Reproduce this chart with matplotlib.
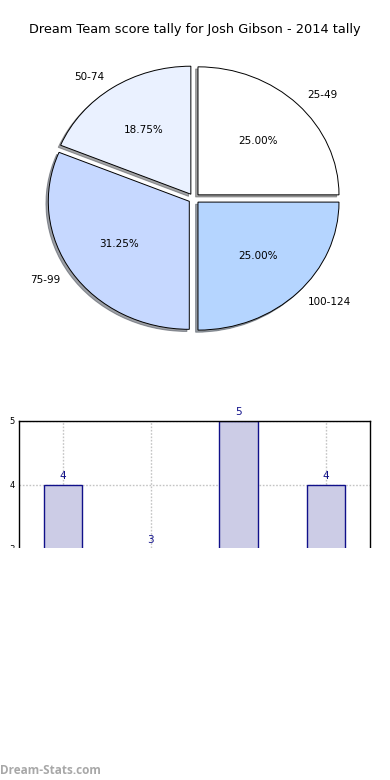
import matplotlib
matplotlib.use("Agg")
import matplotlib.pyplot as plt
from matplotlib.patches import Rectangle

title = "Dream Team score tally for Josh Gibson - 2014 tally"
categories = ["25-49", "50-74", "75-99", "100-124"]
counts = [4, 3, 5, 4]
pie_colors = ["#ffffff", "#eaf1ff", "#c6d8ff", "#b5d5ff"]
ytick_vals = [3, 4, 5]

fig = plt.figure(figsize=(3.9, 7.8), dpi=100)

# Pie chart
ax1 = fig.add_axes([0.0274, 0.5322, 0.940, 0.4267])
wedges, texts, autotexts = ax1.pie(
    counts, labels=categories, colors=pie_colors, explode=[0.04] * len(counts),
    autopct="%1.2f%%", shadow={"ox": -0.012, "oy": -0.012}, startangle=0, labeldistance=1.1,
    pctdistance=0.6, wedgeprops=dict(edgecolor="black", linewidth=0.7),
    textprops=dict(fontsize=7.5))
ax1.set_aspect("auto")
ax1.set_xlim(-1.3, 1.3)
ax1.set_ylim(-1.3, 1.3)
ax1.axis("off")

fig.text(0.5, 1 - 30 / 780, title, ha="center", va="center", fontsize=9.3)

# Bar chart
ax2 = fig.add_axes([19 / 390, 39 / 780, 351 / 390, 320 / 780])
xs = list(range(len(counts)))
ax2.bar(xs, counts, width=0.44, color="#ccccE6", edgecolor="#10108a", linewidth=1.0, zorder=2)
for x, v in zip(xs, counts):
    ax2.text(x, v + 0.06, str(v), ha="center", va="bottom", color="#10108a", fontsize=7.5, zorder=3)
ax2.set_xlim(-0.5, len(counts) - 0.5)
ax2.set_ylim(0, 5)
ax2.set_yticks(ytick_vals)
ax2.set_yticklabels([str(v) for v in ytick_vals], fontsize=6)
ax2.set_xticks(xs)
ax2.set_xticklabels([])
ax2.tick_params(length=0, pad=3)
ax2.grid(True, linestyle=(0, (1.2, 1.2)), color="#c4c4c4", linewidth=1.0, zorder=0)
ax2.set_axisbelow(True)
for s in ax2.spines.values():
    s.set_linewidth(1.0)

# white cover below the visible band
fig.patches.append(Rectangle((0, 0), 1, (780 - 548) / 780, transform=fig.transFigure,
                             facecolor="white", edgecolor="none", zorder=10))
fig.text(0.0, 1 - 770 / 780, "Dream-Stats.com", ha="left", va="center", fontsize=8.5,
         fontweight="bold", color="#a8a8a8", family="Open Sans", zorder=11)

fig.savefig("out.png", dpi=100)
